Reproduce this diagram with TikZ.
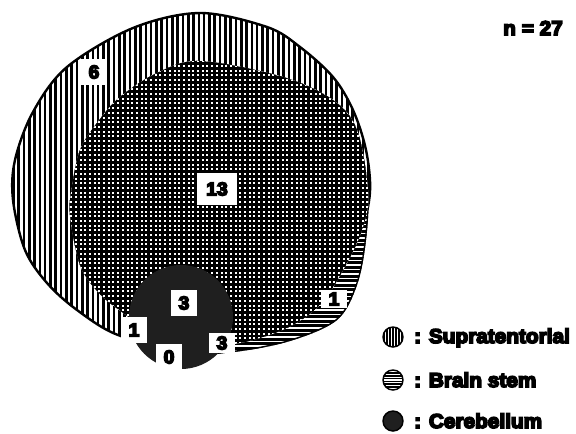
\documentclass[tikz,border=0pt]{standalone}
\usepackage{fontspec}
\newfontfamily\bfnt[FakeStretch=1.04,FakeBold=8]{Liberation Sans Bold}
\begin{document}
\tikzset{
  supra/.style={insert path={plot[smooth cycle,tension=0.55] coordinates{
    (200,13) (267,27) (300,47) (333,77) (353,110) (366,150) (370,192) (361,233)
    (342,272) (320,305) (287,328) (240,343) (180,349) (118,335) (77,310) (47,283)
    (25,250) (13,200) (15,160) (33,112) (67,67) (133,28)}}},
  brain/.style={insert path={plot[smooth cycle,tension=0.55] coordinates{
    (200,61) (283,77) (333,100) (357,130) (368,190) (366,240) (357,285) (337,320)
    (290,341) (233,352) (180,352) (122,312) (98,292) (80,265) (70,215) (72,187)
    (80,150) (97,123) (120,97) (157,73)}}},
  cereb/.style={insert path={(181,317) circle[radius=52]}},
  numlab/.style={fill=white, font=\bfnt\fontsize{14pt}{14pt}\selectfont, inner sep=0pt,
    minimum width=19pt, minimum height=19.5pt},
  legtext/.style={font=\bfnt\fontsize{15pt}{15pt}\selectfont, anchor=base west, inner sep=0pt},
  icon/.style={circle, draw, line width=1.1pt, minimum size=15pt, inner sep=0pt}
}
\begin{tikzpicture}[x=0.75pt,y=-0.75pt]
\useasboundingbox (0,0) rectangle (576,433);
% supratentorial: vertical lines
\begin{scope}
  \clip[supra];
  \fill[white] (0,0) rectangle (400,400);
  \foreach \x in {8,13.3,...,380} \draw[line width=1.95pt] (\x,0) -- (\x,380);
\end{scope}
\draw[line width=1.8pt, supra];
% brain stem: horizontal streaks on black
\begin{scope}
  \clip[brain];
  \fill[black] (40,40) rectangle (400,400);
  \foreach \y in {40,44.5,...,380} \draw[white, line width=0.9pt] (40,\y) -- (400,\y);
  \draw[line width=2pt, brain];
\end{scope}
% overlap: grid
\begin{scope}
  \clip[supra];
  \clip[brain];
  \fill[white] (40,40) rectangle (400,400);
  \foreach \x in {50,54.7,...,380} \draw[line width=2.05pt] (\x,40) -- (\x,380);
  \foreach \y in {40,44.7,...,380} \draw[line width=2.05pt] (40,\y) -- (400,\y);
\end{scope}
% cerebellum
\fill[black!88, cereb];
% region counts
\node[numlab] (l6) at (94,72) {6};
\node[numlab, minimum width=30pt, minimum height=24pt] (l13) at (217,189) {13};
\node[numlab] (l3c) at (184,303) {3};
\node[numlab] (l1a) at (134,330) {1};
\node[numlab] (l0) at (169,357) {0};
\node[numlab, minimum height=15pt] (l3r) at (222,343) {3};
\node[numlab, minimum height=14pt] (l1b) at (334,299) {1};
% sample size
\node[legtext] (n) at (503,35) {n = 27};
% legend
\node[icon, path picture={
  \fill[white] (path picture bounding box.south west) rectangle (path picture bounding box.north east);
  \foreach \i in {-4,...,4} \draw[line width=1.1pt] ([xshift=\i*2.2pt]path picture bounding box.south) -- ([xshift=\i*2.2pt]path picture bounding box.north);
}] (iS) at (393,337) {};
\node[icon, path picture={
  \fill[black] (path picture bounding box.south west) rectangle (path picture bounding box.north east);
  \foreach \i in {-4,...,4} \draw[white, line width=0.8pt] ([yshift=\i*2.1pt]path picture bounding box.west) -- ([yshift=\i*2.1pt]path picture bounding box.east);
}] (iB) at (393,380) {};
\node[icon, fill=black!88] (iC) at (393,421) {};
\node[legtext] (tS) at (414,343) {: Supratentorial};
\node[legtext] (tB) at (414,387) {: Brain stem};
\node[legtext] (tC) at (414,428) {: Cerebellum};
\end{tikzpicture}
\end{document}
